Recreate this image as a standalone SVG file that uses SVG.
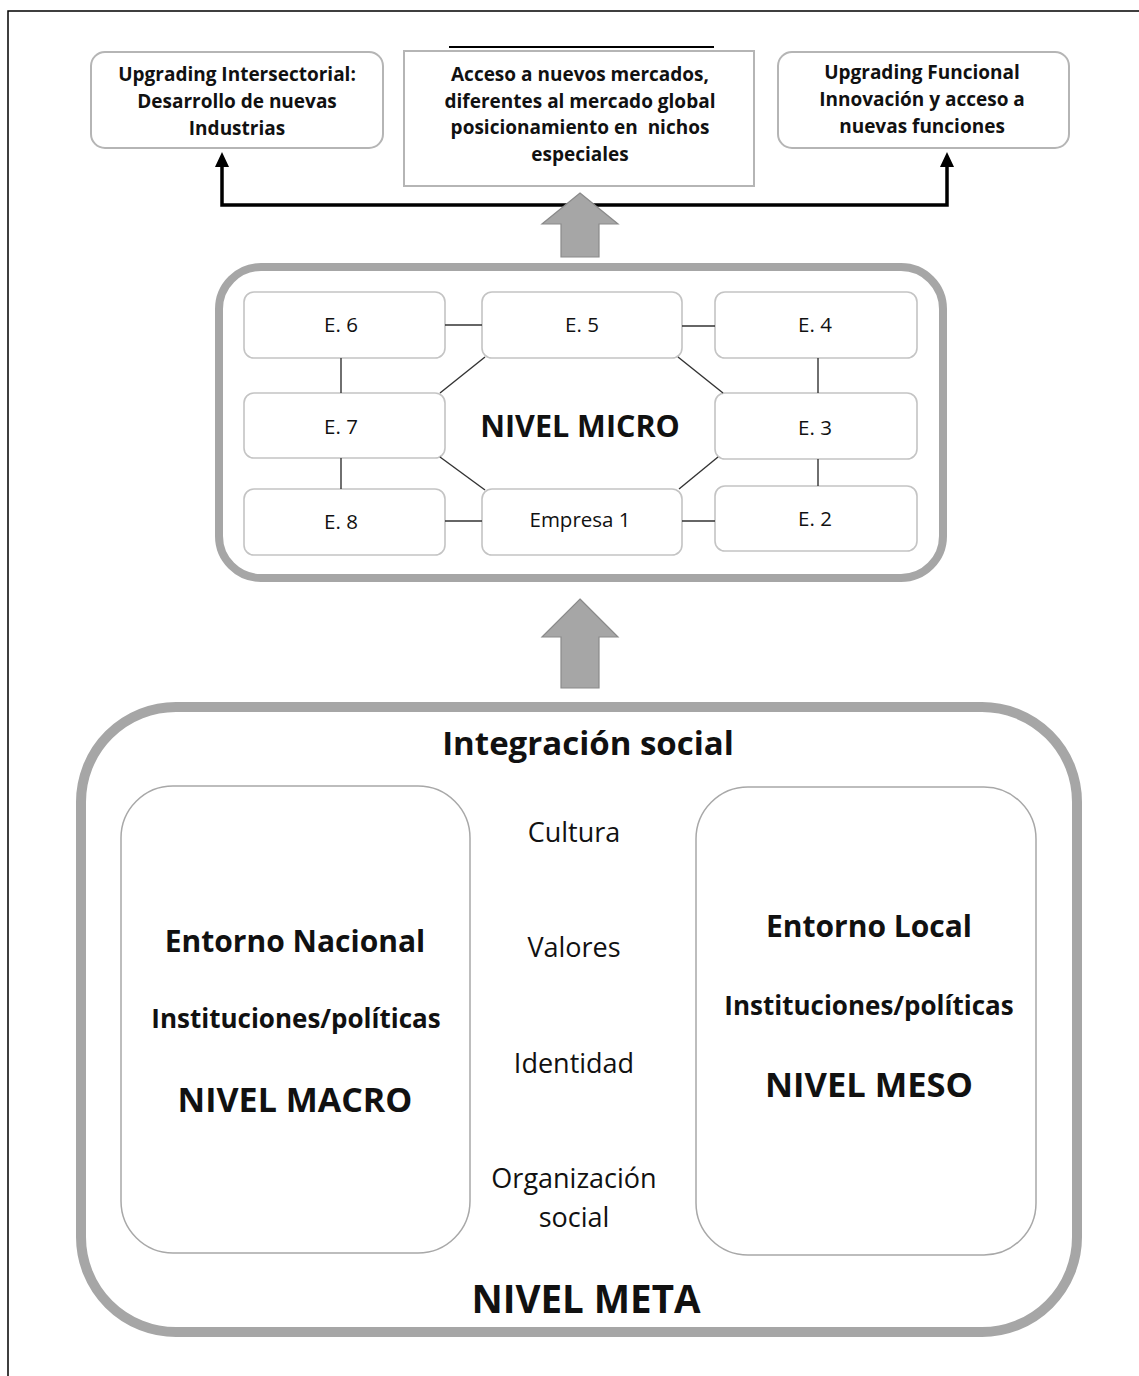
<svg xmlns="http://www.w3.org/2000/svg" width="1139" height="1376" viewBox="0 0 1139 1376">
  <style>
    .t { font-family: "Open Sans", "Noto Sans", "Liberation Sans", sans-serif; fill: #111; text-anchor: middle; }
    .b { font-weight: bold; }
    .top { stroke: #b5b5b5; stroke-width: 2; fill: #fff; }
    .firm { stroke: #c4c4c4; stroke-width: 1.6; fill: #fff; }
    .cont { stroke: #a6a6a6; fill: none; }
    .env { stroke: #a8a8a8; stroke-width: 1.5; fill: #fff; }
    .link { stroke: #333; stroke-width: 1.4; fill: none; }
    .flow { stroke: #000; stroke-width: 3.5; fill: none; }
    .block { fill: #a6a6a6; stroke: #8a8a8a; stroke-width: 1.2; }
  </style>

  <rect width="1139" height="1376" fill="#fff"/>
  <!-- page frame -->
  <path d="M8,1376 V11 H1139" fill="none" stroke="#000" stroke-width="1.5"/>

  <!-- top result boxes -->
  <g id="intersectorial">
    <rect class="top" x="91" y="52" width="292" height="96" rx="14"/>
    <text class="t b" font-size="19" x="237" y="81">Upgrading Intersectorial:</text>
    <text class="t b" font-size="19" x="237" y="108">Desarrollo de nuevas</text>
    <text class="t b" font-size="19" x="237" y="135">Industrias</text>
  </g>
  <g id="mercados">
    <line x1="449" y1="47" x2="714" y2="47" stroke="#000" stroke-width="2"/>
    <rect class="top" x="404" y="51" width="350" height="135"/>
    <text class="t b" font-size="19" x="580" y="81">Acceso a nuevos mercados,</text>
    <text class="t b" font-size="19" x="580" y="108">diferentes al mercado global</text>
    <text class="t b" font-size="19" x="580" y="134" xml:space="preserve">posicionamiento en  nichos</text>
    <text class="t b" font-size="19" x="580" y="161">especiales</text>
  </g>
  <g id="funcional">
    <rect class="top" x="778" y="52" width="291" height="96" rx="14"/>
    <text class="t b" font-size="19" x="922" y="79">Upgrading Funcional</text>
    <text class="t b" font-size="19" x="922" y="106">Innovación y acceso a</text>
    <text class="t b" font-size="19" x="922" y="133">nuevas funciones</text>
  </g>

  <!-- micro level -->
  <g id="micro">
    <rect class="cont" stroke-width="8" x="219" y="267" width="724" height="311" rx="42"/>
    <text class="t b" font-size="30.5" x="580" y="437">NIVEL MICRO</text>
  </g>
  <g id="e6"><rect class="firm" x="244" y="292" width="201" height="66" rx="10"/><text class="t" font-size="20.5" x="341" y="332">E. 6</text></g>
  <g id="e5"><rect class="firm" x="482" y="292" width="200" height="66" rx="10"/><text class="t" font-size="20.5" x="582" y="332">E. 5</text></g>
  <g id="e4"><rect class="firm" x="715" y="292" width="202" height="66" rx="10"/><text class="t" font-size="20.5" x="815" y="332">E. 4</text></g>
  <g id="e7"><rect class="firm" x="244" y="393" width="201" height="65" rx="10"/><text class="t" font-size="20.5" x="341" y="434">E. 7</text></g>
  <g id="e3"><rect class="firm" x="715" y="393" width="202" height="66" rx="10"/><text class="t" font-size="20.5" x="815" y="435">E. 3</text></g>
  <g id="e8"><rect class="firm" x="244" y="489" width="201" height="66" rx="10"/><text class="t" font-size="20.5" x="341" y="529">E. 8</text></g>
  <g id="e1"><rect class="firm" x="482" y="489" width="200" height="66" rx="10"/><text class="t" font-size="20.5" x="580" y="527">Empresa 1</text></g>
  <g id="e2"><rect class="firm" x="715" y="486" width="202" height="65" rx="10"/><text class="t" font-size="20.5" x="815" y="526">E. 2</text></g>

  <!-- meta level -->
  <g id="meta">
    <rect class="cont" stroke-width="10" x="81" y="707" width="996" height="625" rx="95"/>
    <text class="t b" font-size="33" x="588" y="755">Integración social</text>
    <text class="t b" font-size="38.5" x="586" y="1313">NIVEL META</text>
  </g>
  <g id="macro">
    <rect class="env" x="121" y="786" width="349" height="467" rx="52"/>
    <text class="t b" font-size="30" x="295" y="952">Entorno Nacional</text>
    <text class="t b" font-size="26" x="296" y="1028">Instituciones/políticas</text>
    <text class="t b" font-size="34" x="295" y="1112">NIVEL MACRO</text>
  </g>
  <g id="meso">
    <rect class="env" x="696" y="787" width="340" height="468" rx="52"/>
    <text class="t b" font-size="30" x="869" y="937">Entorno Local</text>
    <text class="t b" font-size="26" x="869" y="1015">Instituciones/políticas</text>
    <text class="t b" font-size="34.5" x="869" y="1097">NIVEL MESO</text>
  </g>
  <g id="valores">
    <text class="t" font-size="27" x="574" y="842">Cultura</text>
    <text class="t" font-size="27" x="574" y="957">Valores</text>
    <text class="t" font-size="27" x="574" y="1073">Identidad</text>
    <text class="t" font-size="27" x="574" y="1188">Organización</text>
    <text class="t" font-size="27" x="574" y="1227">social</text>
  </g>

  <!-- connectors -->
  <g id="connectors">
    <line class="link" x1="445" y1="325" x2="482" y2="325"/>
    <line class="link" x1="682" y1="326" x2="715" y2="326"/>
    <line class="link" x1="445" y1="521" x2="482" y2="521"/>
    <line class="link" x1="682" y1="521" x2="715" y2="521"/>
    <line class="link" x1="341" y1="358" x2="341" y2="393"/>
    <line class="link" x1="341" y1="458" x2="341" y2="489"/>
    <line class="link" x1="818" y1="358" x2="818" y2="393"/>
    <line class="link" x1="818" y1="459" x2="818" y2="486"/>
    <line class="link" x1="440" y1="393" x2="485" y2="357"/>
    <line class="link" x1="440" y1="457" x2="485" y2="490"/>
    <line class="link" x1="678" y1="357" x2="723" y2="393"/>
    <line class="link" x1="718" y1="457" x2="679" y2="489"/>

    <path class="flow" d="M222,160 V205 H947 V160"/>
    <path d="M215,167 L222,152 L229,167 z" fill="#000"/>
    <path d="M940,167 L947,152 L954,167 z" fill="#000"/>

    <path class="block" d="M580,193 L618,224 L599,224 L599,257 L561,257 L561,224 L542,224 z"/>
    <path class="block" d="M580,599 L618,637 L599,637 L599,688 L561,688 L561,637 L542,637 z"/>
  </g>
</svg>
